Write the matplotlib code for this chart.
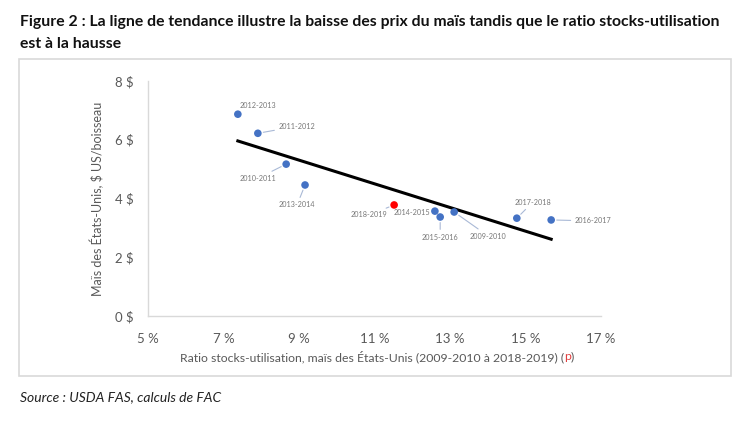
import matplotlib
matplotlib.use("Agg")
import matplotlib.pyplot as plt
import numpy as np
from matplotlib.patches import Rectangle
from matplotlib.ticker import FuncFormatter

plt.rcParams['font.family'] = ['Lato', 'DejaVu Sans']

# Data
seasons = ["2012-2013", "2011-2012", "2010-2011", "2013-2014", "2018-2019",
           "2014-2015", "2015-2016", "2009-2010", "2017-2018", "2016-2017"]
ratio = [7.38, 7.91, 8.66, 9.16, 11.52, 12.60, 12.74, 13.11, 14.77, 15.68]
price = [6.87, 6.22, 5.17, 4.46, 3.78, 3.57, 3.37, 3.54, 3.33, 3.27]
projected = ["2018-2019"]
x_ticks = [5, 7, 9, 11, 13, 15, 17]
y_ticks = [0, 2, 4, 6, 8]

# label offsets in pixels (style)
offsets = {
    "2012-2013": (20, 9, False),
    "2011-2012": (39, 7, True),
    "2010-2011": (-28, -14, True),
    "2013-2014": (-8, -20, True),
    "2018-2019": (-25, -10, True),
    "2014-2015": (-23, -1, False),
    "2015-2016": (0, -20, True),
    "2009-2010": (34, -24, True),
    "2017-2018": (16, 16, True),
    "2016-2017": (42, -1, True),
}

fig = plt.figure(figsize=(7.5, 4.22), dpi=100)
fig.patch.set_facecolor('white')

# frame around chart
fig.patches.append(Rectangle((19/750, 1-376/422), (731-19)/750, (376-59)/422,
                             transform=fig.transFigure, fill=False,
                             edgecolor='#d9d9d9', lw=1.2))

ax = fig.add_axes([148/750, 1-316/422, (601-148)/750, (316-81)/422])
ax.set_xlim(5, 17)
ax.set_ylim(0, 8)

# trend line
coef = np.polyfit(ratio, price, 1)
xs = np.array([min(ratio), max(ratio)])
ax.plot(xs, np.polyval(coef, xs), color='black', lw=2.2, zorder=2)

colors = ['#ff0000' if s in projected else '#4472c4' for s in seasons]
ax.scatter(ratio, price, s=30, c=colors, zorder=3, linewidths=0)

for s, x, y in zip(seasons, ratio, price):
    dx, dy, leader = offsets[s]
    arrow = dict(arrowstyle='-', color='#a9b9d6', lw=0.8, shrinkA=1, shrinkB=4) if leader else None
    ax.annotate(s, (x, y), xytext=(dx, dy), textcoords='offset pixels',
                ha='center', va='center', fontsize=5.2, color='#777777',
                arrowprops=arrow, zorder=4)

for sp in ['top', 'right']:
    ax.spines[sp].set_visible(False)
for sp in ['left', 'bottom']:
    ax.spines[sp].set_color('#d9d9d9')
    ax.spines[sp].set_linewidth(1)

ax.set_xticks(x_ticks)
ax.set_yticks(y_ticks)
ax.xaxis.set_major_formatter(FuncFormatter(lambda v, p: f"{int(v)} %"))
ax.yaxis.set_major_formatter(FuncFormatter(lambda v, p: f"{int(v)} $"))
ax.tick_params(axis='both', length=0, labelsize=9.5, colors='#595959')
ax.tick_params(axis='x', pad=12)
ax.tick_params(axis='y', pad=10)

ax.set_ylabel("Maïs des États-Unis, $ US/boisseau", fontsize=9, color='#595959', labelpad=8)

# x label with red (p)
xl = fig.text(180/750, 1-357/422, "Ratio stocks-utilisation, maïs des États-Unis (2009-2010 à 2018-2019) (",
              fontsize=8.8, color='#595959', ha='left', va='center')
fig.canvas.draw()
bb = xl.get_window_extent()
t2 = fig.text(bb.x1/750, 1-357/422, "p", fontsize=8.8, color='#e04040', ha='left', va='center')
fig.canvas.draw()
bb2 = t2.get_window_extent()
fig.text(bb2.x1/750, 1-357/422, ")", fontsize=8.8, color='#595959', ha='left', va='center')

fig.text(20/750, 1-22/422, "Figure 2 : La ligne de tendance illustre la baisse des prix du maïs tandis que le ratio stocks-utilisation",
         fontsize=11.3, fontweight='bold', color='#111111', ha='left', va='center')
fig.text(20/750, 1-44/422, "est à la hausse",
         fontsize=11.3, fontweight='bold', color='#111111', ha='left', va='center')
fig.text(20/750, 1-397/422, "Source : USDA FAS, calculs de FAC",
         fontsize=10, style='italic', color='#222222', ha='left', va='center')

fig.savefig("out.png", dpi=100)
